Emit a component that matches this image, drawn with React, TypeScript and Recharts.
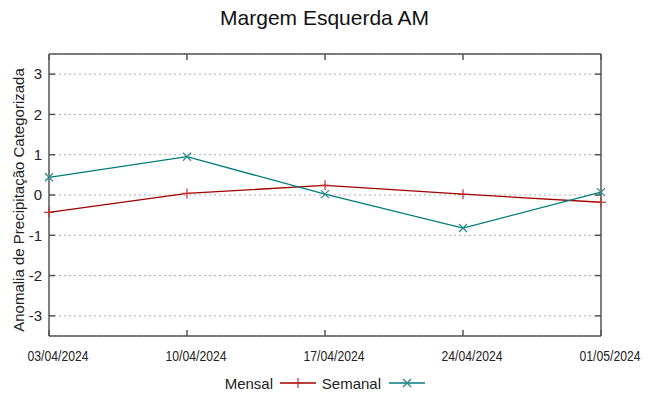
import { LineChart, Line, XAxis, YAxis, CartesianGrid } from "recharts";

const dates = ["03/04/2024", "10/04/2024", "17/04/2024", "24/04/2024", "01/05/2024"];
const mensal = [-0.43, 0.04, 0.24, 0.02, -0.18];
const semanal = [0.44, 0.95, 0.02, -0.82, 0.07];
const yTicks = [-3, -2, -1, 0, 1, 2, 3];

const RED = "#a00000";
const TEAL = "#007b7b";
const FONT = "'Liberation Sans', Arial, sans-serif";

const data = dates.map((d, i) => ({ date: d, mensal: mensal[i], semanal: semanal[i] }));

function PlusDot({ cx, cy }: any) {
  if (cx == null || cy == null) return null;
  return (
    <g stroke="#c03030" strokeWidth={1.2}>
      <line x1={cx - 5} y1={cy} x2={cx + 5} y2={cy} />
      <line x1={cx} y1={cy - 5} x2={cx} y2={cy + 5} />
    </g>
  );
}

function CrossDot({ cx, cy }: any) {
  if (cx == null || cy == null) return null;
  return (
    <g stroke="#2a8a8a" strokeWidth={1.2}>
      <line x1={cx - 4} y1={cy - 4} x2={cx + 4} y2={cy + 4} />
      <line x1={cx - 4} y1={cy + 4} x2={cx + 4} y2={cy - 4} />
    </g>
  );
}

const NoLabel = () => <g />;

// narrow date labels, sitting a little right of their tick as in the original
function DateTick({ x, y, payload }: any) {
  return (
    <text x={x + 9} y={y} dy="0.72em" textAnchor="middle" fontFamily={FONT} fontSize={14}
      fill="#222" textLength={61} lengthAdjust="spacingAndGlyphs">
      {payload.value}
    </text>
  );
}

function YLabel() {
  return (
    <text x={18} y={200} transform="rotate(-90 18 200)" textAnchor="middle" dominantBaseline="central"
      fontFamily={FONT} fontSize={15} fill="#222">
      Anomalia de Precipitação Categorizada
    </text>
  );
}

export default function App() {
  return (
    <div style={{ position: "absolute", left: 0, top: 0, width: 649, height: 396, background: "#fff", fontFamily: FONT }}>
      <div style={{ position: "absolute", left: 0, top: 6, width: 649, textAlign: "center", fontSize: 21, color: "#111" }}>
        Margem Esquerda AM
      </div>
      <LineChart width={649} height={396} data={data} margin={{ top: 53, right: 47, bottom: 0, left: 0 }}>
        <CartesianGrid vertical={false} stroke="#aaa" strokeDasharray="2 3" />
        <XAxis dataKey="date" height={60} interval={0} padding={{ left: 0, right: 0 }}
          stroke="#555" strokeWidth={1.5} tickSize={-6} tickMargin={21} tick={<DateTick />} />
        <XAxis dataKey="date" xAxisId="top" orientation="top" height={1} interval={0}
          stroke="#555" strokeWidth={1.5} tickSize={-6} tick={NoLabel} />
        <YAxis domain={[-3.5, 3.5]} ticks={yTicks} width={49} allowDataOverflow
          stroke="#555" strokeWidth={1.5} tickSize={-6} tickMargin={13}
          tick={{ fontSize: 15, fill: "#222", fontFamily: FONT }}
          label={<YLabel />} />
        <YAxis yAxisId="right" orientation="right" domain={[-3.5, 3.5]} ticks={yTicks} width={1}
          allowDataOverflow stroke="#555" strokeWidth={1.5} tickSize={-6} tick={NoLabel} />
        <Line dataKey="mensal" stroke={RED} strokeWidth={1.3} dot={<PlusDot />} isAnimationActive={false} />
        <Line dataKey="semanal" stroke={TEAL} strokeWidth={1.3} dot={<CrossDot />} isAnimationActive={false} />
      </LineChart>
      <svg style={{ position: "absolute", left: 0, top: 372 }} width={649} height={22}>
        <text x={273} y={11} textAnchor="end" dominantBaseline="central" fontFamily={FONT} fontSize={15} fill="#222">Mensal</text>
        <line x1={280} y1={11} x2={316} y2={11} stroke={RED} strokeWidth={1.3} />
        <PlusDot cx={298} cy={11} />
        <text x={381} y={11} textAnchor="end" dominantBaseline="central" fontFamily={FONT} fontSize={15} fill="#222">Semanal</text>
        <line x1={389} y1={11} x2={425} y2={11} stroke={TEAL} strokeWidth={1.3} />
        <CrossDot cx={407} cy={11} />
      </svg>
    </div>
  );
}
